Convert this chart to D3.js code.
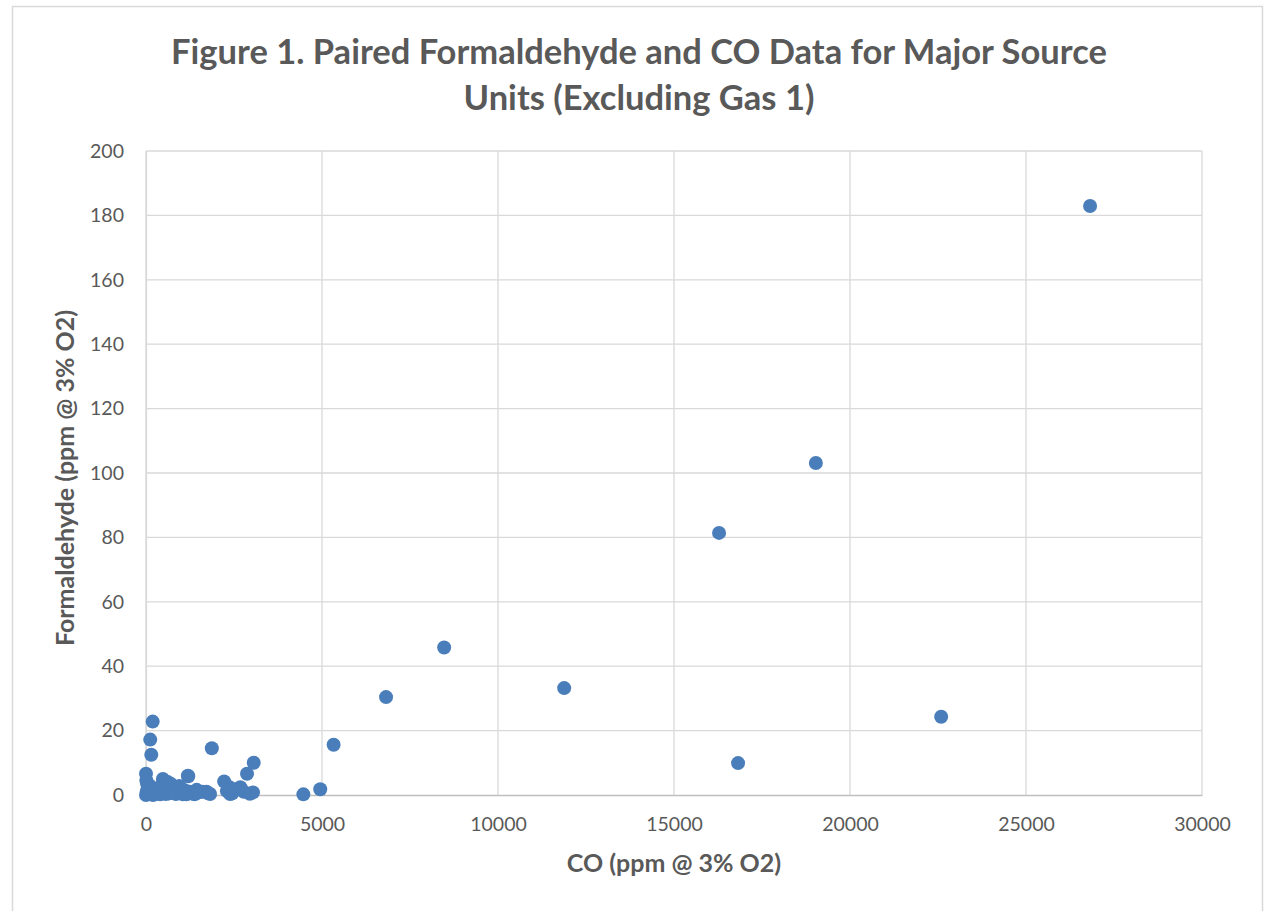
<!DOCTYPE html>
<html>
<head>
<meta charset="utf-8">
<script src="https://cdn.jsdelivr.net/npm/d3@7"></script>
<style>
  body { margin: 0; background: #fff; }
  text { font-family: Lato, "Open Sans", sans-serif; fill: #595959; }
</style>
</head>
<body>
<svg width="1268" height="911"></svg>
<script>
// CO (ppm @ 3% O2) and paired formaldehyde (ppm @ 3% O2)
var co = [26820, 19030, 16280, 16820, 22590, 11880, 8470, 6820, 5330, 4950, 4470,
    3060, 2870, 3040, 1870, 2680, 2360, 2220, 1200, 1720, 2390,
    190, 120, 150, 0, 480, 1190, 540,
    0, 20, 50, 80, 100, 150, 200, 250, 300, 350, 400, 450, 500, 600, 650,
    700, 750, 800, 850, 900, 1000, 1100, 1150, 1300, 1440, 1500, 1600, 1750, 1820, 30, 60,
    10, 120, 280, 420, 560, 620, 780, 950, 1050, 1250, 1380, 2300, 2450, 2550, 2780, 2950];
var hcho = [182.9, 103.1, 81.4, 9.9, 24.3, 33.2, 45.8, 30.4, 15.6, 1.8, 0.2,
    10.0, 6.6, 0.8, 14.5, 2.4, 2.5, 4.2, 5.8, 1.0, 0.3,
    22.8, 17.2, 12.5, 6.6, 5.0, 6.0, 4.0,
    0.0, 1.0, 2.0, 0.5, 3.0, 1.0, 0.0, 2.0, 0.5, 1.5, 0.2, 3.0, 1.0, 2.0, 0.5,
    3.5, 1.0, 2.0, 0.3, 1.2, 0.8, 1.5, 0.2, 0.5, 1.6, 0.8, 1.0, 0.6, 0.3, 3.5, 2.5,
    4.5, 0.4, 1.2, 2.5, 0.3, 4.0, 0.6, 2.8, 0.2, 1.0, 0.2, 1.2, 0.5, 1.8, 1.0, 0.4];
var xTicks = [0, 5000, 10000, 15000, 20000, 25000, 30000];
var yTicks = [0, 20, 40, 60, 80, 100, 120, 140, 160, 180, 200];

var data = co.map(function(d, i){ return {x: d, y: hcho[i]}; });

var svg = d3.select("svg");
var plotLeft = 146, plotRight = 1202, plotTop = 151, plotBottom = 795;

// chart frame
svg.append("rect")
    .attr("x", 12.5).attr("y", 6.5)
    .attr("width", 1250).attr("height", 920)
    .attr("fill", "#fff").attr("stroke", "#d9d9d9").attr("stroke-width", 1.5);

var x = d3.scaleLinear().domain([0, 30000]).range([plotLeft, plotRight]);
var y = d3.scaleLinear().domain([0, 200]).range([plotBottom, plotTop]);

// grid
svg.append("g").selectAll("line").data(yTicks.slice(1)).enter().append("line")
    .attr("x1", plotLeft).attr("x2", plotRight)
    .attr("y1", function(d){ return y(d); }).attr("y2", function(d){ return y(d); })
    .attr("stroke", "#d9d9d9").attr("stroke-width", 1.3);
svg.append("g").selectAll("line").data(xTicks).enter().append("line")
    .attr("y1", plotTop).attr("y2", plotBottom)
    .attr("x1", function(d){ return x(d); }).attr("x2", function(d){ return x(d); })
    .attr("stroke", "#d9d9d9").attr("stroke-width", 1.3);

// axes
var xAxis = svg.append("g").attr("transform", "translate(0," + plotBottom + ")")
    .call(d3.axisBottom(x).tickValues(xTicks).tickSize(0).tickPadding(22).tickFormat(d3.format("d")));
xAxis.select(".domain").attr("stroke", "#bfbfbf").attr("stroke-width", 1.5);
xAxis.selectAll("text").style("font-size", "19.5px").attr("fill", "#595959");

var yAxis = svg.append("g").attr("transform", "translate(" + plotLeft + ",0)")
    .call(d3.axisLeft(y).tickValues(yTicks).tickSize(0).tickPadding(22));
yAxis.select(".domain").attr("stroke", "#d9d9d9").attr("stroke-width", 1.3);
yAxis.selectAll("text").style("font-size", "19.5px").attr("fill", "#595959");

// points
svg.append("g").selectAll("circle").data(data).enter().append("circle")
    .attr("cx", function(d){ return x(d.x); })
    .attr("cy", function(d){ return y(d.y); })
    .attr("r", 7)
    .attr("fill", "#4a7ebb");

// titles
var title = svg.append("text")
    .attr("text-anchor", "middle")
    .attr("font-size", "34.5px").attr("font-weight", "bold");
title.append("tspan").attr("x", 639).attr("y", 64).text("Figure 1. Paired Formaldehyde and CO Data for Major Source");
title.append("tspan").attr("x", 639).attr("y", 110).text("Units (Excluding Gas 1)");

svg.append("text")
    .attr("x", 674).attr("y", 872)
    .attr("text-anchor", "middle")
    .attr("font-size", "25px").attr("font-weight", "bold")
    .text("CO (ppm @ 3% O2)");

svg.append("text")
    .attr("transform", "translate(74,478) rotate(-90)")
    .attr("text-anchor", "middle")
    .attr("font-size", "25px").attr("font-weight", "bold")
    .text("Formaldehyde (ppm @ 3% O2)");
</script>
</body>
</html>
